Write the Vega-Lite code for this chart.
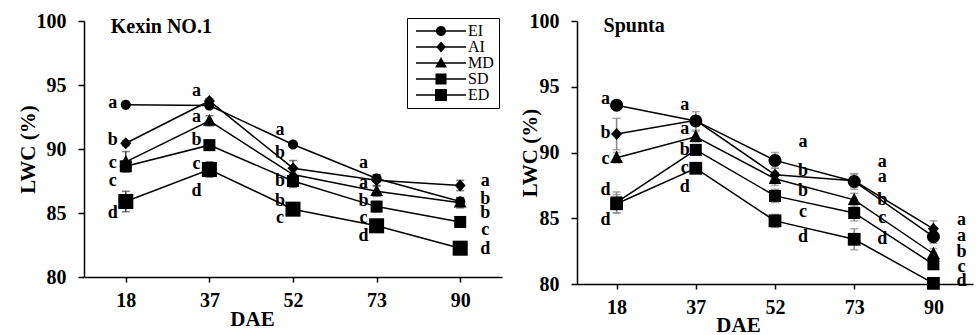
{
  "$schema": "https://vega.github.io/schema/vega-lite/v6.json",
  "padding": {"left": 17, "top": 11, "right": 2, "bottom": 0},
  "datasets": {
    "series": [
      {"panel": "K", "trt": "EI", "DAE": 18, "LWC": 93.45, "err": 0.1},
      {"panel": "K", "trt": "EI", "DAE": 37, "LWC": 93.4, "err": 0.2},
      {"panel": "K", "trt": "EI", "DAE": 52, "LWC": 90.35, "err": 0.2},
      {"panel": "K", "trt": "EI", "DAE": 73, "LWC": 87.7, "err": 0.3},
      {"panel": "K", "trt": "EI", "DAE": 90, "LWC": 85.9, "err": 0.3},
      {"panel": "K", "trt": "AI", "DAE": 18, "LWC": 90.45, "err": 0.2},
      {"panel": "K", "trt": "AI", "DAE": 37, "LWC": 93.75, "err": 0.2},
      {"panel": "K", "trt": "AI", "DAE": 52, "LWC": 88.5, "err": 0.6},
      {"panel": "K", "trt": "AI", "DAE": 73, "LWC": 87.55, "err": 0.4},
      {"panel": "K", "trt": "AI", "DAE": 90, "LWC": 87.15, "err": 0.4},
      {"panel": "K", "trt": "MD", "DAE": 18, "LWC": 89.0, "err": 0.8},
      {"panel": "K", "trt": "MD", "DAE": 37, "LWC": 92.2, "err": 0.4},
      {"panel": "K", "trt": "MD", "DAE": 52, "LWC": 88.0, "err": 0.5},
      {"panel": "K", "trt": "MD", "DAE": 73, "LWC": 86.7, "err": 0.4},
      {"panel": "K", "trt": "MD", "DAE": 90, "LWC": 85.8, "err": 0.4},
      {"panel": "K", "trt": "SD", "DAE": 18, "LWC": 88.65, "err": 0.3},
      {"panel": "K", "trt": "SD", "DAE": 37, "LWC": 90.3, "err": 0.4},
      {"panel": "K", "trt": "SD", "DAE": 52, "LWC": 87.5, "err": 0.5},
      {"panel": "K", "trt": "SD", "DAE": 73, "LWC": 85.5, "err": 0.4},
      {"panel": "K", "trt": "SD", "DAE": 90, "LWC": 84.3, "err": 0.4},
      {"panel": "K", "trt": "ED", "DAE": 18, "LWC": 85.9, "err": 0.8},
      {"panel": "K", "trt": "ED", "DAE": 37, "LWC": 88.4, "err": 0.6},
      {"panel": "K", "trt": "ED", "DAE": 52, "LWC": 85.3, "err": 0.3},
      {"panel": "K", "trt": "ED", "DAE": 73, "LWC": 84.0, "err": 0.4},
      {"panel": "K", "trt": "ED", "DAE": 90, "LWC": 82.25, "err": 0.2},
      {"panel": "S", "trt": "EI", "DAE": 18, "LWC": 93.6, "err": 0.2},
      {"panel": "S", "trt": "EI", "DAE": 37, "LWC": 92.4, "err": 0.7},
      {"panel": "S", "trt": "EI", "DAE": 52, "LWC": 89.4, "err": 0.6},
      {"panel": "S", "trt": "EI", "DAE": 73, "LWC": 87.8, "err": 0.6},
      {"panel": "S", "trt": "EI", "DAE": 90, "LWC": 83.6, "err": 0.5},
      {"panel": "S", "trt": "AI", "DAE": 18, "LWC": 91.4, "err": 1.2},
      {"panel": "S", "trt": "AI", "DAE": 37, "LWC": 92.45, "err": 0.3},
      {"panel": "S", "trt": "AI", "DAE": 52, "LWC": 88.3, "err": 0.5},
      {"panel": "S", "trt": "AI", "DAE": 73, "LWC": 87.85, "err": 0.5},
      {"panel": "S", "trt": "AI", "DAE": 90, "LWC": 84.2, "err": 0.6},
      {"panel": "S", "trt": "MD", "DAE": 18, "LWC": 89.6, "err": 0.4},
      {"panel": "S", "trt": "MD", "DAE": 37, "LWC": 91.2, "err": 0.4},
      {"panel": "S", "trt": "MD", "DAE": 52, "LWC": 88.0, "err": 0.5},
      {"panel": "S", "trt": "MD", "DAE": 73, "LWC": 86.4, "err": 0.5},
      {"panel": "S", "trt": "MD", "DAE": 90, "LWC": 82.3, "err": 0.4},
      {"panel": "S", "trt": "SD", "DAE": 18, "LWC": 86.2, "err": 0.8},
      {"panel": "S", "trt": "SD", "DAE": 37, "LWC": 90.2, "err": 0.4},
      {"panel": "S", "trt": "SD", "DAE": 52, "LWC": 86.7, "err": 0.5},
      {"panel": "S", "trt": "SD", "DAE": 73, "LWC": 85.4, "err": 0.6},
      {"panel": "S", "trt": "SD", "DAE": 90, "LWC": 81.5, "err": 0.3},
      {"panel": "S", "trt": "ED", "DAE": 18, "LWC": 86.1, "err": 0.7},
      {"panel": "S", "trt": "ED", "DAE": 37, "LWC": 88.8, "err": 0.3},
      {"panel": "S", "trt": "ED", "DAE": 52, "LWC": 84.8, "err": 0.5},
      {"panel": "S", "trt": "ED", "DAE": 73, "LWC": 83.4, "err": 0.8},
      {"panel": "S", "trt": "ED", "DAE": 90, "LWC": 80.05, "err": 0.2}
    ],
    "labels": [
      {"panel": "K", "DAE": 18, "lbl": "a", "ly": 93.6},
      {"panel": "K", "DAE": 18, "lbl": "b", "ly": 90.7},
      {"panel": "K", "DAE": 18, "lbl": "c", "ly": 88.9},
      {"panel": "K", "DAE": 18, "lbl": "c", "ly": 87.5},
      {"panel": "K", "DAE": 18, "lbl": "d", "ly": 85.0},
      {"panel": "K", "DAE": 37, "lbl": "a", "ly": 94.5},
      {"panel": "K", "DAE": 37, "lbl": "a", "ly": 92.5},
      {"panel": "K", "DAE": 37, "lbl": "b", "ly": 90.7},
      {"panel": "K", "DAE": 37, "lbl": "c", "ly": 88.85},
      {"panel": "K", "DAE": 37, "lbl": "d", "ly": 86.7},
      {"panel": "K", "DAE": 52, "lbl": "a", "ly": 91.5},
      {"panel": "K", "DAE": 52, "lbl": "b", "ly": 89.7},
      {"panel": "K", "DAE": 52, "lbl": "b", "ly": 87.5},
      {"panel": "K", "DAE": 52, "lbl": "b", "ly": 85.9},
      {"panel": "K", "DAE": 52, "lbl": "c", "ly": 84.6},
      {"panel": "K", "DAE": 73, "lbl": "a", "ly": 88.9},
      {"panel": "K", "DAE": 73, "lbl": "a", "ly": 87.35},
      {"panel": "K", "DAE": 73, "lbl": "b", "ly": 85.9},
      {"panel": "K", "DAE": 73, "lbl": "c", "ly": 84.6},
      {"panel": "K", "DAE": 73, "lbl": "d", "ly": 83.2},
      {"panel": "K", "DAE": 90, "lbl": "a", "ly": 87.5},
      {"panel": "K", "DAE": 90, "lbl": "b", "ly": 86.1},
      {"panel": "K", "DAE": 90, "lbl": "b", "ly": 85.0},
      {"panel": "K", "DAE": 90, "lbl": "c", "ly": 83.7},
      {"panel": "K", "DAE": 90, "lbl": "d", "ly": 82.15},
      {"panel": "S", "DAE": 18, "lbl": "a", "ly": 94.05},
      {"panel": "S", "DAE": 18, "lbl": "b", "ly": 91.5},
      {"panel": "S", "DAE": 18, "lbl": "c", "ly": 89.5},
      {"panel": "S", "DAE": 18, "lbl": "d", "ly": 87.15},
      {"panel": "S", "DAE": 18, "lbl": "d", "ly": 84.9},
      {"panel": "S", "DAE": 37, "lbl": "a", "ly": 93.65},
      {"panel": "S", "DAE": 37, "lbl": "a", "ly": 91.8},
      {"panel": "S", "DAE": 37, "lbl": "b", "ly": 90.2},
      {"panel": "S", "DAE": 37, "lbl": "c", "ly": 88.8},
      {"panel": "S", "DAE": 37, "lbl": "d", "ly": 87.4},
      {"panel": "S", "DAE": 52, "lbl": "a", "ly": 90.8},
      {"panel": "S", "DAE": 52, "lbl": "b", "ly": 88.6},
      {"panel": "S", "DAE": 52, "lbl": "b", "ly": 87.1},
      {"panel": "S", "DAE": 52, "lbl": "c", "ly": 85.5},
      {"panel": "S", "DAE": 52, "lbl": "d", "ly": 83.6},
      {"panel": "S", "DAE": 73, "lbl": "a", "ly": 89.25},
      {"panel": "S", "DAE": 73, "lbl": "a", "ly": 88.1},
      {"panel": "S", "DAE": 73, "lbl": "b", "ly": 86.4},
      {"panel": "S", "DAE": 73, "lbl": "c", "ly": 85.0},
      {"panel": "S", "DAE": 73, "lbl": "d", "ly": 83.4},
      {"panel": "S", "DAE": 90, "lbl": "a", "ly": 84.9},
      {"panel": "S", "DAE": 90, "lbl": "a", "ly": 83.65},
      {"panel": "S", "DAE": 90, "lbl": "b", "ly": 82.4},
      {"panel": "S", "DAE": 90, "lbl": "c", "ly": 81.3},
      {"panel": "S", "DAE": 90, "lbl": "d", "ly": 80.25}
    ],
    "titles": [
      {"panel": "K", "DAE": 18, "lbl": "Kexin NO.1", "ly": 99.5},
      {"panel": "S", "DAE": 18, "lbl": "Spunta", "ly": 99.6}
    ]
  },
  "spacing": 12,
  "hconcat": [
    {
      "width": 418,
      "height": 256,
      "encoding": {
        "x": {"field": "DAE", "type": "ordinal", "scale": {"type": "point", "padding": 0.5}, "axis": {"title": "DAE", "labelAngle": 0, "titleX": 168, "titlePadding": -2, "labelPadding": 8, "tickSize": 5}},
        "y": {"field": "LWC", "type": "quantitative", "title": "LWC (%)", "scale": {"domain": [80, 100], "zero": false, "nice": false}, "axis": {"values": [80, 85, 90, 95, 100], "titlePadding": -2, "labelPadding": 12}}
      },
      "layer": [
        {
          "data": {"name": "series"},
          "transform": [{"filter": "datum.panel == 'K'"}],
          "mark": {"type": "errorbar", "ticks": {"size": 8}, "color": "#444", "thickness": 1.5},
          "encoding": {"yError": {"field": "err"}}
        },
        {
          "data": {"name": "series"},
          "transform": [{"filter": "datum.panel == 'K'"}],
          "mark": {"type": "line", "color": "black", "strokeWidth": 1.5},
          "encoding": {"detail": {"field": "trt"}}
        },
        {
          "data": {"name": "series"},
          "transform": [{"filter": "datum.panel == 'K'"}],
          "mark": {"type": "point", "filled": true, "color": "black", "opacity": 1, "size": 256},
          "encoding": {
            "shape": {"field": "trt", "type": "nominal", "legend": null,
              "scale": {"domain": ["EI", "AI", "MD", "SD", "ED"],
                "range": [
                  "M0.63,0A0.63,0.63,0,1,1,-0.63,0A0.63,0.63,0,1,1,0.63,0Z",
                  "M0,-0.75L0.69,0L0,0.75L-0.69,0Z",
                  "M0,-0.85L0.8,0.6L-0.8,0.6Z",
                  "M-0.75,-0.75H0.75V0.75H-0.75Z",
                  "M-0.94,-0.94H0.94V0.94H-0.94Z"
                ]}}
          }
        },
        {
          "data": {"name": "series"},
          "transform": [{"filter": "datum.panel == 'K'"}],
          "mark": {"type": "point", "filled": true, "color": "black", "opacity": 0, "size": 256},
          "encoding": {
            "shape": {"field": "trt", "type": "nominal",
              "scale": {"domain": ["EI", "AI", "MD", "SD", "ED"],
                "range": [
                  "M-0.5,-0.1H5.75V0.1H-0.5ZM3.25,0A0.625,0.625,0,1,1,2,0A0.625,0.625,0,1,1,3.25,0Z",
                  "M-0.5,-0.1H5.75V0.1H-0.5ZM2.625,-0.7L3.225,0L2.625,0.7L2.025,0Z",
                  "M-0.5,-0.1H5.75V0.1H-0.5ZM2.625,-0.75L3.375,0.55L1.875,0.55Z",
                  "M-0.5,-0.1H5.75V0.1H-0.5ZM1.935,-0.69H3.315V0.69H1.935Z",
                  "M-0.5,-0.1H5.75V0.1H-0.5ZM1.875,-0.75H3.375V0.75H1.875Z"
                ]},
              "legend": {"title": null, "orient": "none", "legendX": 323, "legendY": -3, "strokeColor": "black", "padding": 5, "symbolSize": 256, "symbolOpacity": 1, "symbolFillColor": "black", "symbolStrokeColor": "black", "symbolStrokeWidth": 0, "labelFont": "Liberation Serif", "labelFontSize": 16, "labelFontWeight": "normal", "labelColor": "black", "labelOffset": 40, "rowPadding": 0}}
          }
        },
        {
          "data": {"name": "labels"},
          "transform": [{"filter": "datum.panel == 'K' && datum.DAE != 90"}],
          "mark": {"type": "text", "font": "Liberation Serif", "fontWeight": "bold", "fontSize": 18, "dx": -13, "align": "center", "baseline": "middle", "color": "black"},
          "encoding": {"y": {"field": "ly", "type": "quantitative", "title": "LWC (%)"}, "text": {"field": "lbl"}}
        },
        {
          "data": {"name": "labels"},
          "transform": [{"filter": "datum.panel == 'K' && datum.DAE == 90"}],
          "mark": {"type": "text", "font": "Liberation Serif", "fontWeight": "bold", "fontSize": 18, "dx": 25, "align": "center", "baseline": "middle", "color": "black"},
          "encoding": {"y": {"field": "ly", "type": "quantitative", "title": "LWC (%)"}, "text": {"field": "lbl"}}
        },
        {
          "data": {"name": "titles"},
          "transform": [{"filter": "datum.panel == 'K'"}],
          "mark": {"type": "text", "font": "Liberation Serif", "fontWeight": "bold", "fontSize": 20, "dx": -15, "align": "left", "baseline": "middle", "color": "black"},
          "encoding": {"y": {"field": "ly", "type": "quantitative", "title": "LWC (%)"}, "text": {"field": "lbl"}}
        }
      ],
      "resolve": {"scale": {"shape": "independent"}, "legend": {"shape": "independent"}}
    },
    {
      "width": 396,
      "height": 263,
      "encoding": {
        "x": {"field": "DAE", "type": "ordinal", "scale": {"type": "point", "padding": 0.5}, "axis": {"title": "DAE", "labelAngle": 0, "titleX": 161, "titlePadding": -3, "labelPadding": 8, "tickSize": 5}},
        "y": {"field": "LWC", "type": "quantitative", "title": "LWC (%)", "scale": {"domain": [80, 100], "zero": false, "nice": false}, "axis": {"values": [80, 85, 90, 95, 100], "titlePadding": -11, "labelPadding": 12}}
      },
      "layer": [
        {
          "data": {"name": "series"},
          "transform": [{"filter": "datum.panel == 'S'"}],
          "mark": {"type": "errorbar", "ticks": {"size": 8}, "color": "#888", "thickness": 1.5},
          "encoding": {"yError": {"field": "err"}}
        },
        {
          "data": {"name": "series"},
          "transform": [{"filter": "datum.panel == 'S'"}],
          "mark": {"type": "line", "color": "black", "strokeWidth": 1.5},
          "encoding": {"detail": {"field": "trt"}}
        },
        {
          "data": {"name": "series"},
          "transform": [{"filter": "datum.panel == 'S'"}],
          "mark": {"type": "point", "filled": true, "color": "black", "opacity": 1, "size": 256},
          "encoding": {
            "shape": {"field": "trt", "type": "nominal", "legend": null,
              "scale": {"domain": ["EI", "AI", "MD", "SD", "ED"],
                "range": [
                  "M0.81,0A0.81,0.81,0,1,1,-0.81,0A0.81,0.81,0,1,1,0.81,0Z",
                  "M0,-0.75L0.69,0L0,0.75L-0.69,0Z",
                  "M0,-0.9L0.8,0.65L-0.8,0.65Z",
                  "M-0.75,-0.75H0.75V0.75H-0.75Z",
                  "M-0.8,-0.8H0.8V0.8H-0.8Z"
                ]}}
          }
        },
        {
          "data": {"name": "labels"},
          "transform": [{"filter": "datum.panel == 'S' && datum.DAE <= 37"}],
          "mark": {"type": "text", "font": "Liberation Serif", "fontWeight": "bold", "fontSize": 18, "dx": -11, "align": "center", "baseline": "middle", "color": "black"},
          "encoding": {"y": {"field": "ly", "type": "quantitative", "title": "LWC (%)"}, "text": {"field": "lbl"}}
        },
        {
          "data": {"name": "labels"},
          "transform": [{"filter": "datum.panel == 'S' && datum.DAE > 37"}],
          "mark": {"type": "text", "font": "Liberation Serif", "fontWeight": "bold", "fontSize": 18, "dx": 28, "align": "center", "baseline": "middle", "color": "black"},
          "encoding": {"y": {"field": "ly", "type": "quantitative", "title": "LWC (%)"}, "text": {"field": "lbl"}}
        },
        {
          "data": {"name": "titles"},
          "transform": [{"filter": "datum.panel == 'S'"}],
          "mark": {"type": "text", "font": "Liberation Serif", "fontWeight": "bold", "fontSize": 20, "dx": -13, "align": "left", "baseline": "middle", "color": "black"},
          "encoding": {"y": {"field": "ly", "type": "quantitative", "title": "LWC (%)"}, "text": {"field": "lbl"}}
        }
      ]
    }
  ],
  "config": {
    "view": {"stroke": null},
    "axis": {"grid": false, "domainColor": "black", "domainWidth": 1.5, "tickColor": "black", "tickWidth": 1.5, "tickSize": 6, "labelFont": "Liberation Serif", "labelFontSize": 20, "labelFontWeight": "bold", "labelColor": "black", "titleFont": "Liberation Serif", "titleFontSize": 21, "titleFontWeight": "bold", "titleColor": "black"}
  }
}
